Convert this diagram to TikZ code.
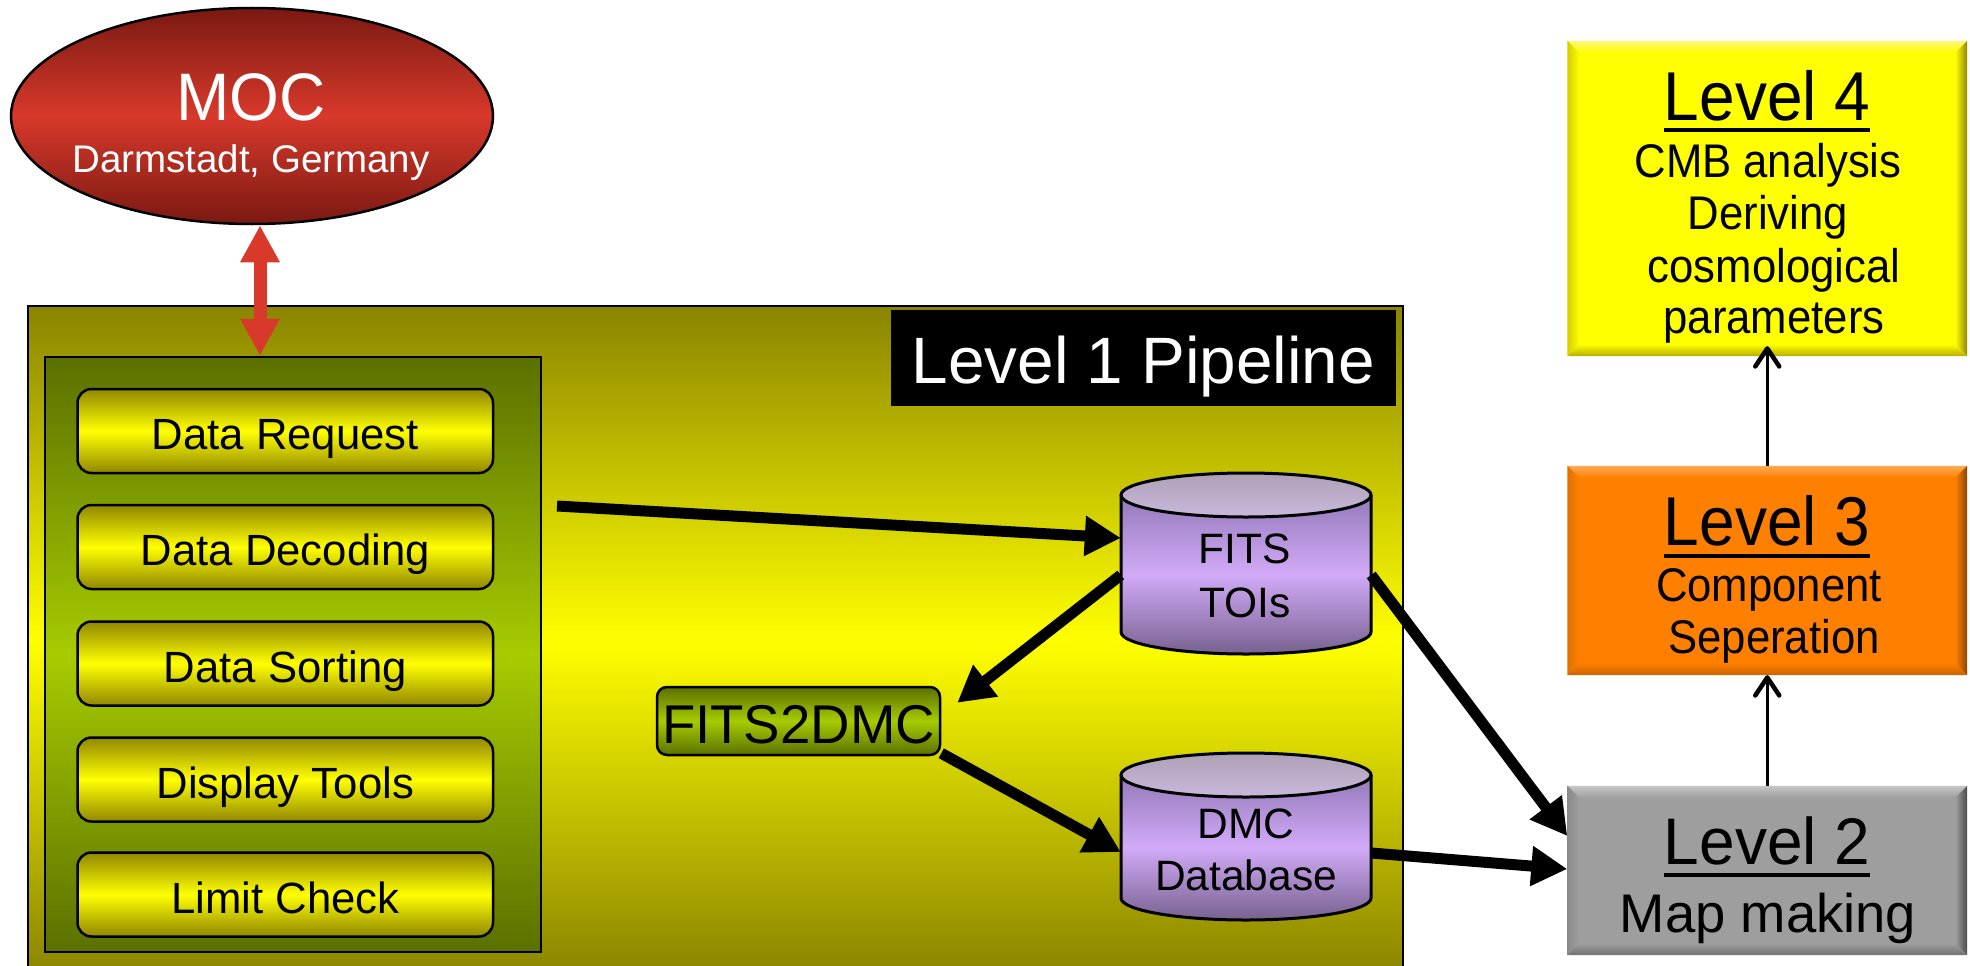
\documentclass[tikz,border=0pt]{standalone}
\usepackage{fontspec}
\usepackage{graphicx}
\setmainfont{Liberation Sans}
\usetikzlibrary{arrows.meta,calc,shapes.geometric}

\definecolor{mocdark}{HTML}{7A1912}
\definecolor{mocred}{HTML}{D8392B}
\definecolor{arrred}{HTML}{D9392B}
\definecolor{lonetop}{HTML}{8A8400}
\definecolor{lonemid}{HTML}{FFFF00}
\definecolor{grtop}{HTML}{5A7000}
\definecolor{grmid}{HTML}{A6CC00}
\definecolor{rbtop}{HTML}{908700}
\definecolor{rbmid}{HTML}{FFFF00}
\definecolor{cylbtop}{HTML}{9279B8}
\definecolor{cylbmid}{HTML}{D2AAF8}
\definecolor{cylbbot}{HTML}{77628F}
\definecolor{cyltopa}{HTML}{ADA0B5}
\definecolor{cyltopb}{HTML}{C9B9DD}
\definecolor{lfourc}{HTML}{FFFF00}
\definecolor{lfourl}{HTML}{FFF87A}
\definecolor{lfourd}{HTML}{8C8500}
\definecolor{lfourlf}{HTML}{D6CE00}
\definecolor{lfourb}{HTML}{B5AD00}
\definecolor{lthreec}{HTML}{FF8000}
\definecolor{lthreel}{HTML}{FFAA55}
\definecolor{lthreed}{HTML}{8A4500}
\definecolor{lthreelf}{HTML}{E07000}
\definecolor{lthreeb}{HTML}{C86400}
\definecolor{ltwoc}{HTML}{9E9E9E}
\definecolor{ltwol}{HTML}{C6C6C6}
\definecolor{ltwod}{HTML}{4A4A4A}
\definecolor{ltwolf}{HTML}{8A8A8A}
\definecolor{ltwob}{HTML}{707070}

\newcommand\bevelbox[6]{%
  \shade[top color=#2, bottom color=#3] (#1.north west) -- (#1.north east) -- ($(#1.north east)+(-12,12)$) -- ($(#1.north west)+(12,12)$) -- cycle;
  \shade[left color=#3, right color=#4] (#1.north east) -- (#1.south east) -- ($(#1.south east)+(-12,-12)$) -- ($(#1.north east)+(-12,12)$) -- cycle;
  \shade[top color=#3, bottom color=#6] (#1.south west) -- (#1.south east) -- ($(#1.south east)+(-12,-12)$) -- ($(#1.south west)+(12,-12)$) -- cycle;
  \shade[left color=#5, right color=#3] (#1.north west) -- ($(#1.north west)+(12,12)$) -- ($(#1.south west)+(12,-12)$) -- (#1.south west) -- cycle;
}
% name, cx, ytop, ybot
\newcommand\dbdrum[4]{%
  \shade[top color=cylbtop, bottom color=cylbbot, middle color=cylbmid]
    (#2-125,#3+22) -- (#2-125,#4-22) arc[start angle=180, end angle=0, x radius=125, y radius=22] -- (#2+125,#3+22) -- cycle;
  \shade[top color=cyltopa, bottom color=cyltopb] (#2,#3+22) ellipse[x radius=125, y radius=22];
  \draw[line width=3pt] (#2,#3+22) ellipse[x radius=125, y radius=22];
  \draw[line width=3pt, line join=round] (#2-125,#3+22) -- (#2-125,#4-22) arc[start angle=180, end angle=0, x radius=125, y radius=22] -- (#2+125,#3+22);
}
\newcommand\tall[1]{\scalebox{1}[1.08]{#1}}

\begin{document}
\begin{tikzpicture}[x=1pt,y=-1pt,
  txt/.style={inner sep=0pt, anchor=base},
  boxfont/.style={font=\fontsize{43.7}{52}\selectfont},
  cylfont/.style={font=\fontsize{42.5}{52}\selectfont},
  titlefont/.style={font=\fontsize{64}{70}\selectfont},
  stepbox/.style={draw=black, line width=2.5pt, rounded corners=14pt, minimum width=415.5pt,
    minimum height=84pt, inner sep=0pt, text height=37pt, text depth=0pt, boxfont,
    top color=rbtop, bottom color=rbtop, middle color=rbmid},
  levelbox/.style={minimum width=399.5pt, inner sep=0pt},
  bigarrow/.style={line width=11pt, -{Triangle[length=36pt,width=38pt]}},
  redarrow/.style={draw=arrred, line width=13pt, {Triangle[length=37pt,width=37pt]}-{Triangle[length=37pt,width=37pt]}},
  uparrow/.style={line width=3pt, -{Straight Barb[length=18pt,width=24pt,line width=4.5pt,round]}},
  underl/.style={line width=4.5pt}
]
\useasboundingbox (0,0) rectangle (1970,966);
\clip (0,0) rectangle (1970,966);

% MOC
\node[ellipse, draw=black, line width=2.5pt, minimum width=482pt, minimum height=216pt, inner sep=0pt,
  top color=mocdark, bottom color=mocdark, middle color=mocred] (moc) at (252,116) {};
\node[txt, text=white, titlefont] (moct) at (251,120) {\scalebox{1}[1.05]{MOC}};
\node[txt, text=white, font=\fontsize{38.5}{44}\selectfont] (mocs) at (251,172) {Darmstadt, Germany};

% Level 1 pipeline frame
\node[draw=black, line width=2pt, minimum width=1375pt, minimum height=669pt, inner sep=0pt,
  top color=lonetop, bottom color=lonetop, middle color=lonemid] (lvl1) at (715.5,640.5) {};
\node[fill=black, minimum width=505pt, minimum height=96pt, inner sep=0pt, text height=50pt, text depth=0pt,
  text=white, font=\fontsize{65.6}{70}\selectfont] (l1lab) at (1143.5,358) {Level 1 Pipeline};

% inner green block
\node[draw=black, line width=2.5pt, minimum width=496pt, minimum height=595pt, inner sep=0pt,
  top color=grtop, bottom color=grtop, middle color=grmid] (inner) at (293,654.5) {};
\node[stepbox] (req) at (285.25,431) {Data Request};
\node[stepbox] (dec) at (285.25,547) {Data Decoding};
\node[stepbox] (sor) at (285.25,663.5) {Data Sorting};
\node[stepbox] (dis) at (285.25,779.5) {Display Tools};
\node[stepbox] (lim) at (285.25,894.5) {Limit Check};

% FITS2DMC
\node[draw=black, line width=2.5pt, rounded corners=10pt, minimum width=283pt, minimum height=68pt, inner sep=0pt,
  text height=44pt, text depth=0pt, font=\fontsize{54.6}{60}\selectfont,
  top color=grtop, bottom color=grtop, middle color=grmid] (f2d) at (798.5,721) {FITS2DMC};

% cylinders
\dbdrum{fits}{1246}{473}{654}
\node[minimum width=250pt, minimum height=181pt, inner sep=0pt] (fits) at (1246,563.5) {};
\node[txt, cylfont] (fitsa) at (1245,563) {FITS};
\node[txt, cylfont] (fitsb) at (1245,617) {TOIs};
\dbdrum{dmc}{1246}{753}{920}
\node[minimum width=250pt, minimum height=167pt, inner sep=0pt] (dmc) at (1246,836.5) {};
\node[txt, cylfont] (dmca) at (1246,838) {DMC};
\node[txt, cylfont] (dmcb) at (1246,890.7) {Database};

% level boxes
\node[levelbox, minimum height=315pt, fill=lfourc] (l4) at (1767.25,198.5) {};
\bevelbox{l4}{lfourl}{lfourc}{lfourd}{lfourlf}{lfourb}
\node[levelbox, minimum height=209pt, fill=lthreec] (l3) at (1767.25,570.5) {};
\bevelbox{l3}{lthreel}{lthreec}{lthreed}{lthreelf}{lthreeb}
\node[levelbox, minimum height=169pt, fill=ltwoc] (l2) at (1767.25,870.5) {};
\bevelbox{l2}{ltwol}{ltwoc}{ltwod}{ltwolf}{ltwob}

\node[txt, titlefont] (l4t) at (1767,120) {\tall{Level 4}};
\draw[underl] ([yshift=-10pt]l4t.base west) -- ([yshift=-10pt]l4t.base east);
\node[txt, boxfont] (l4a) at (1768,177.5) {\tall{CMB analysis}};
\node[txt, boxfont] (l4b) at (1768,229) {\tall{Deriving}};
\node[txt, boxfont] (l4c) at (1774,282) {\tall{cosmological}};
\node[txt, boxfont] (l4d) at (1774,333) {\tall{parameters}};

\node[txt, titlefont] (l3t) at (1767,545) {\tall{Level 3}};
\draw[underl] ([yshift=-11pt]l3t.base west) -- ([yshift=-11pt]l3t.base east);
\node[txt, boxfont] (l3a) at (1769,601) {\tall{Component}};
\node[txt, boxfont] (l3b) at (1774,653) {\tall{Seperation}};

\node[txt, titlefont] (l2t) at (1767,864) {\scalebox{1}[1.03]{Level 2}};
\draw[underl] ([yshift=-11pt]l2t.base west) -- ([yshift=-11pt]l2t.base east);
\node[txt, font=\fontsize{54.4}{60}\selectfont] (l2a) at (1768,932.7) {Map making};

% connectors
\coordinate (mocb) at ([xshift=8pt]moc.south);
\draw[redarrow] (mocb) -- (mocb |- inner.north);

\coordinate (reqout) at (557,506);
\draw[bigarrow] (reqout) -- ([yshift=25.5pt]fits.west);
\draw[bigarrow] ([yshift=-11.5pt]fits.west) -- ([shift={(16,17)}]f2d.north east);
\draw[bigarrow] ([yshift=3pt]f2d.south east) -- ([yshift=-15.5pt]dmc.west);
\draw[bigarrow] ([yshift=-11.5pt]fits.east) -- ([yshift=34.5pt]l2.west);
\draw[bigarrow] ([yshift=-16.5pt]dmc.east) -- ([yshift=1.5pt]l2.west);

\draw[uparrow] (l2.north) -- (l3.south);
\draw[uparrow] (l3.north) -- ([yshift=10pt]l4.south);
\end{tikzpicture}
\end{document}
